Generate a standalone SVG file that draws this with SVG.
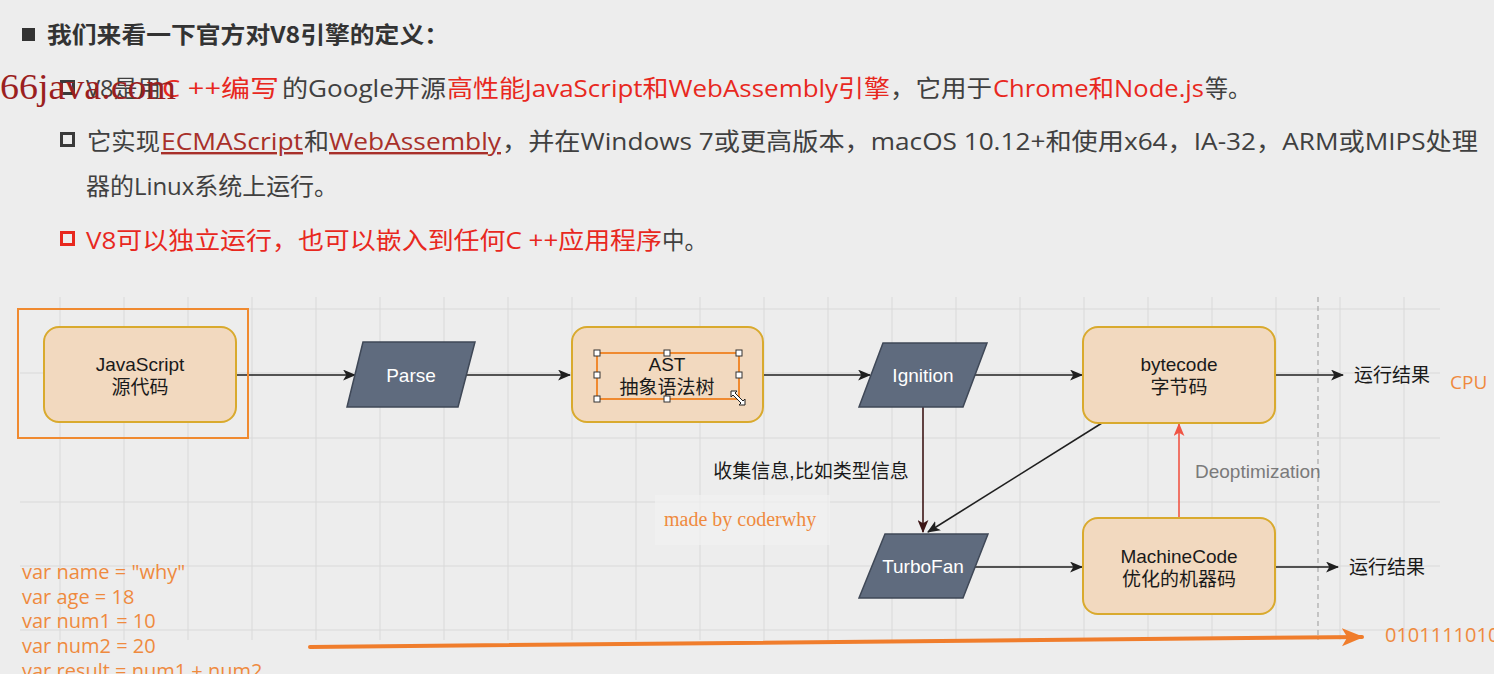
<svg xmlns="http://www.w3.org/2000/svg" width="1494" height="674" viewBox="0 0 1494 674">
<defs>
<style>
.bg{fill:#ededed}
.grid line{stroke:#d9d9d9;stroke-width:1}
.t{font-family:"Open Sans","Noto Sans CJK SC",sans-serif;font-size:24px;fill:#404040}
.r{fill:#e8281e}
.u{fill:#a8302a;text-decoration:underline}
.h{font-family:"Noto Sans CJK SC",sans-serif;font-size:23px;font-weight:bold;fill:#333}
.box{fill:#f2d9bf;stroke:#d9aa2e;stroke-width:2}
.para{fill:#5f6b7e;stroke:#3f4857;stroke-width:1.5}
.lbl{font-family:"Liberation Sans","Noto Sans CJK SC",sans-serif;font-size:19px;fill:#1a1a1a;text-anchor:middle}
.wl{font-family:"Liberation Sans","Noto Sans CJK SC",sans-serif;font-size:19px;fill:#ffffff;text-anchor:middle}
.conn path{fill:none;stroke:#1f1f1f;stroke-width:1.6}
.code{font-family:"Open Sans","Noto Sans CJK SC",sans-serif;font-size:20px;fill:#ef8a3e}
.hd{fill:#fff;stroke:#333;stroke-width:1}
</style>
<marker id="ah" viewBox="0 0 12 10" refX="11" refY="5" markerWidth="13" markerHeight="11" markerUnits="userSpaceOnUse" orient="auto"><path d="M0,0 L12,5 L0,10 L3,5 z" fill="#1f1f1f"/></marker>
<marker id="ahm" viewBox="0 0 12 10" refX="11" refY="5" markerWidth="13" markerHeight="11" markerUnits="userSpaceOnUse" orient="auto"><path d="M0,0 L12,5 L0,10 L3,5 z" fill="#3d1616"/></marker>
<marker id="ahr" viewBox="0 0 12 10" refX="11" refY="5" markerWidth="13" markerHeight="11" markerUnits="userSpaceOnUse" orient="auto"><path d="M0,0 L12,5 L0,10 L3,5 z" fill="#f05545"/></marker>
<marker id="aho" viewBox="0 0 12 10" refX="11" refY="5" markerWidth="22" markerHeight="20" markerUnits="userSpaceOnUse" orient="auto"><path d="M0,0 L12,5 L0,10 L3,5 z" fill="#f07d2c"/></marker>
</defs>
<rect class="bg" x="0" y="0" width="1494" height="674"/>

<!-- grid -->
<g class="grid">
<line x1="60" y1="297" x2="60" y2="640"/><line x1="124" y1="297" x2="124" y2="640"/><line x1="188" y1="297" x2="188" y2="640"/><line x1="252" y1="297" x2="252" y2="640"/><line x1="316" y1="297" x2="316" y2="640"/><line x1="380" y1="297" x2="380" y2="640"/><line x1="444" y1="297" x2="444" y2="640"/><line x1="508" y1="297" x2="508" y2="640"/><line x1="572" y1="297" x2="572" y2="640"/><line x1="636" y1="297" x2="636" y2="640"/><line x1="700" y1="297" x2="700" y2="640"/><line x1="764" y1="297" x2="764" y2="640"/><line x1="828" y1="297" x2="828" y2="640"/><line x1="892" y1="297" x2="892" y2="640"/><line x1="956" y1="297" x2="956" y2="640"/><line x1="1020" y1="297" x2="1020" y2="640"/><line x1="1084" y1="297" x2="1084" y2="640"/><line x1="1148" y1="297" x2="1148" y2="640"/><line x1="1212" y1="297" x2="1212" y2="640"/><line x1="1276" y1="297" x2="1276" y2="640"/><line x1="1340" y1="297" x2="1340" y2="640"/><line x1="1404" y1="297" x2="1404" y2="640"/>
<line x1="20" y1="309" x2="1440" y2="309"/><line x1="20" y1="373" x2="1440" y2="373"/><line x1="20" y1="438" x2="1440" y2="438"/><line x1="20" y1="502" x2="1440" y2="502"/><line x1="20" y1="566" x2="1440" y2="566"/><line x1="20" y1="630" x2="1440" y2="630"/>
</g>
<line x1="1318" y1="297" x2="1318" y2="640" stroke="#a8a8a8" stroke-width="1.2" stroke-dasharray="5,4"/>
<rect x="655" y="495" width="175" height="50" fill="#f1f1f1" opacity="0.7"/>

<!-- header text -->
<g id="heading">
<rect x="22" y="28" width="13" height="13" fill="#333"/>
<text class="h" x="47" y="43" textLength="402" lengthAdjust="spacingAndGlyphs">我们来看一下官方对V8引擎的定义：</text>
</g>
<g id="line2">
<rect x="61.5" y="81.5" width="12" height="12" fill="none" stroke="#3a3a3a" stroke-width="3"/>
<text class="t" x="86" y="97" textLength="75" lengthAdjust="spacingAndGlyphs">V8是用</text>
<text class="t r" x="162" y="97" textLength="117" lengthAdjust="spacingAndGlyphs">C ++编写</text>
<text class="t" x="282" y="97" textLength="164" lengthAdjust="spacingAndGlyphs">的Google开源</text>
<text class="t r" x="447" y="97" textLength="443" lengthAdjust="spacingAndGlyphs">高性能JavaScript和WebAssembly引擎</text>
<text class="t" x="890" y="97" textLength="102" lengthAdjust="spacingAndGlyphs">，它用于</text>
<text class="t r" x="993" y="97" textLength="211" lengthAdjust="spacingAndGlyphs">Chrome和Node.js</text>
<text class="t" x="1205" y="97" textLength="46" lengthAdjust="spacingAndGlyphs">等。</text>
<text x="0" y="99" font-family="'Liberation Serif',serif" font-size="35" fill="#9b1f1f" textLength="176" lengthAdjust="spacingAndGlyphs">66java.com</text>
</g>
<g id="line3">
<rect x="61.5" y="133.5" width="12" height="12" fill="none" stroke="#3a3a3a" stroke-width="3"/>
<text class="t" x="87" y="150" textLength="73" lengthAdjust="spacingAndGlyphs">它实现</text>
<text class="t u" x="161" y="150" textLength="142" lengthAdjust="spacingAndGlyphs">ECMAScript</text>
<text class="t" x="304" y="150" textLength="25" lengthAdjust="spacingAndGlyphs">和</text>
<text class="t u" x="329" y="150" textLength="172" lengthAdjust="spacingAndGlyphs">WebAssembly</text>
<text class="t" x="502" y="150" textLength="976" lengthAdjust="spacingAndGlyphs">，并在Windows 7或更高版本，macOS 10.12+和使用x64，IA-32，ARM或MIPS处理</text>
<text class="t" x="86" y="195" textLength="252" lengthAdjust="spacingAndGlyphs">器的Linux系统上运行。</text>
</g>
<g id="line5">
<rect x="61.5" y="232.5" width="12" height="12" fill="none" stroke="#e8281e" stroke-width="3"/>
<text class="t r" x="86" y="249" textLength="576" lengthAdjust="spacingAndGlyphs">V8可以独立运行，也可以嵌入到任何C ++应用程序</text>
<text class="t" x="662" y="249" textLength="45" lengthAdjust="spacingAndGlyphs">中。</text>
</g>

<!-- connectors -->
<g id="connectors" class="conn">
<path d="M237,375 H355" marker-end="url(#ah)"/>
<path d="M466,375 H570" marker-end="url(#ah)"/>
<path d="M763,375 H870" marker-end="url(#ah)"/>
<path d="M975,375 H1082" marker-end="url(#ah)"/>
<path d="M1275,375 H1343" marker-end="url(#ah)"/>
<path d="M923,407 V532" style="stroke:#3d1616" marker-end="url(#ahm)"/>
<path d="M1102,423 L928,532" marker-end="url(#ah)"/>
<path d="M975,567 H1082" marker-end="url(#ah)"/>
<path d="M1272,567 H1338" marker-end="url(#ah)"/>
<path d="M1179,518 V424" style="stroke:#f05545" marker-end="url(#ahr)"/>
<path d="M310,647 L1362,637" style="stroke:#f07d2c;stroke-width:4;stroke-linecap:round" marker-end="url(#aho)"/>
</g>

<!-- nodes -->
<g id="node-js">
<rect x="18" y="309" width="230" height="129" fill="none" stroke="#f08a30" stroke-width="2"/>
<rect class="box" x="44" y="327" width="192" height="95" rx="15"/>
<text class="lbl" x="140" y="371">JavaScript</text>
<text class="lbl" x="140" y="394">源代码</text>
</g>
<g id="node-parse">
<polygon class="para" points="363,342 475,342 458,407 347,407"/>
<text class="wl" x="411" y="382">Parse</text>
</g>
<g id="node-ast">
<rect class="box" x="572" y="327" width="191" height="95" rx="15"/>
<rect x="597" y="353" width="142" height="46" fill="none" stroke="#f08a30" stroke-width="2"/>
<text class="lbl" x="667" y="371">AST</text>
<text class="lbl" x="667" y="394">抽象语法树</text>
<rect class="hd" x="594" y="350" width="6" height="6"/><rect class="hd" x="664" y="350" width="6" height="6"/><rect class="hd" x="736" y="350" width="6" height="6"/>
<rect class="hd" x="594" y="372" width="6" height="6"/><rect class="hd" x="736" y="372" width="6" height="6"/>
<rect class="hd" x="594" y="396" width="6" height="6"/><rect class="hd" x="664" y="396" width="6" height="6"/>
<path d="M731,391 l6,0 l-2,2 l8,8 l2,-2 l0,6 l-6,0 l2,-2 l-8,-8 l-2,2 z" fill="#fff" stroke="#222" stroke-width="1"/>
</g>
<g id="node-ignition">
<polygon class="para" points="883,343 987,343 963,407 859,407"/>
<text class="wl" x="923" y="382">Ignition</text>
</g>
<g id="node-bytecode">
<rect class="box" x="1083" y="327" width="192" height="96" rx="15"/>
<text class="lbl" x="1179" y="371">bytecode</text>
<text class="lbl" x="1179" y="394">字节码</text>
</g>
<g id="node-turbofan">
<polygon class="para" points="885,534 988,534 963,598 859,598"/>
<text class="wl" x="923" y="573">TurboFan</text>
</g>
<g id="node-machinecode">
<rect class="box" x="1083" y="518" width="192" height="96" rx="15"/>
<text class="lbl" x="1179" y="563">MachineCode</text>
<text class="lbl" x="1179" y="586">优化的机器码</text>
</g>

<!-- labels -->
<g id="labels">
<text class="lbl" x="1392" y="382">运行结果</text>
<text class="lbl" x="1387" y="574">运行结果</text>
<text class="lbl" x="811" y="478">收集信息,比如类型信息</text>
<text x="1195" y="478" font-family="'Liberation Sans',sans-serif" font-size="19" fill="#7a7a7a">Deoptimization</text>
<text x="1450" y="389" font-family="'Open Sans',sans-serif" font-size="19" fill="#ef8a3e">CPU</text>
<text x="664" y="526" font-family="'Liberation Serif',serif" font-size="20" fill="#ef8a3e">made by coderwhy</text>
<text x="1385" y="642" font-family="'Open Sans',sans-serif" font-size="20" fill="#ef8a3e">0101111010</text>
</g>

<g id="code">
<text class="code" x="22" y="579">var name = "why"</text>
<text class="code" x="22" y="604">var age = 18</text>
<text class="code" x="22" y="628">var num1 = 10</text>
<text class="code" x="22" y="653">var num2 = 20</text>
<text class="code" x="22" y="678">var result = num1 + num2</text>
</g>
</svg>
